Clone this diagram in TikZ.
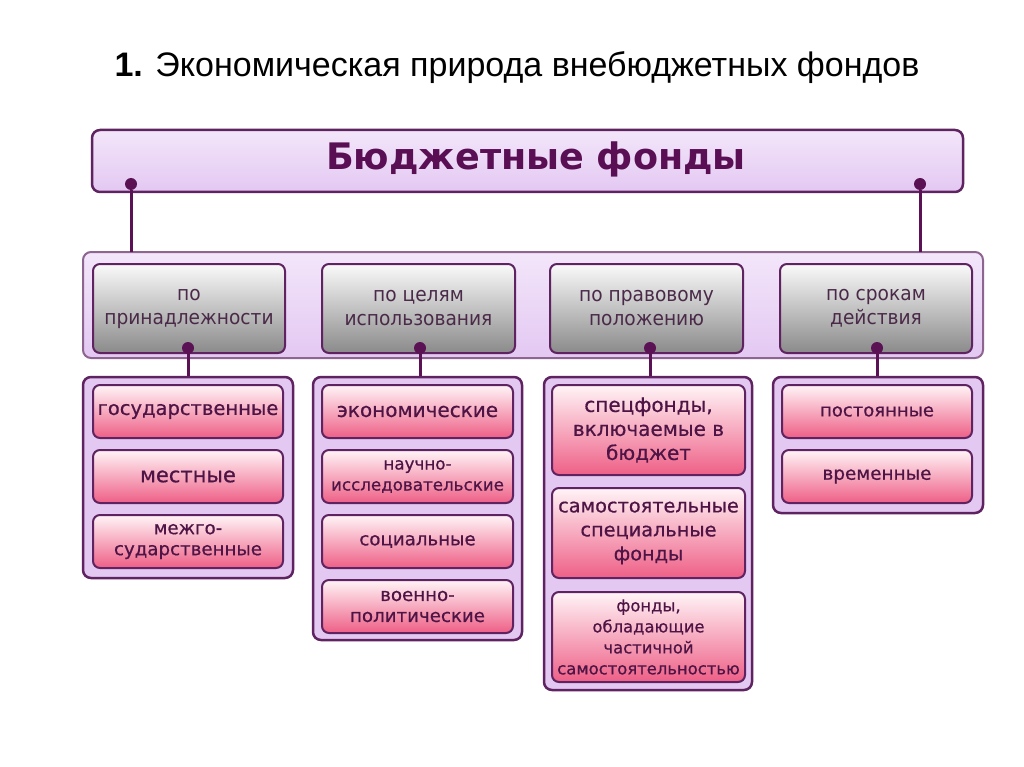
\documentclass[tikz,border=0pt]{standalone}
\usepackage{fontspec}
\setmainfont{Liberation Sans}
\newfontfamily\headfont{DejaVu Sans}
\newfontfamily\narrowfont[FakeStretch=0.93]{DejaVu Sans}
\newfontfamily\itemfont[FakeBold=0.6]{DejaVu Sans}
\definecolor{pborder}{HTML}{5E2360}
\definecolor{lav}{HTML}{E3C8F2}
\definecolor{lavlight}{HTML}{F3E6FA}
\definecolor{pinktop}{HTML}{FFF4F7}
\definecolor{pinkbot}{HTML}{EE5F86}
\definecolor{graytop}{HTML}{FAFAFA}
\definecolor{graybot}{HTML}{8A8A8A}
\definecolor{ptext}{HTML}{4E1445}
\definecolor{htext}{HTML}{5A0F55}
\definecolor{gtext}{HTML}{4A2A48}
\definecolor{dotc}{HTML}{5A1254}
\tikzset{
  banner/.style={draw=pborder, line width=2.5pt, rounded corners=8pt, top color=lavlight, bottom color=lav, minimum width=871pt, minimum height=62pt, inner sep=0pt},
  band/.style={draw=pborder!70, line width=2pt, rounded corners=8pt, top color=lavlight, bottom color=lav, minimum width=900pt, minimum height=106pt, inner sep=0pt},
  grp/.style={draw=pborder, line width=2.5pt, rounded corners=8pt, fill=lav, inner sep=0pt},
  graybox/.style={draw=pborder, line width=2pt, rounded corners=7pt, top color=graytop, bottom color=graybot, minimum width=192pt, minimum height=89pt, align=center, text=gtext, font=\narrowfont\fontsize{20}{24}\selectfont, inner sep=0pt},
  pinkbox/.style={draw=pborder, line width=2pt, rounded corners=7pt, top color=pinktop, bottom color=pinkbot, minimum width=190pt, minimum height=53pt, align=center, text=ptext, inner sep=0pt},
  dot/.style={circle, fill=dotc, minimum size=12pt, inner sep=0pt},
  conn/.style={draw=dotc, line width=3pt},
}
\begin{document}
\begin{tikzpicture}[x=1pt,y=-1pt]
\useasboundingbox[fill=white] (0,0) rectangle (1024,767);
% title
\node[anchor=west, font=\fontsize{34}{38}\selectfont, text=black] (title) at (111,68) {\textbf{1.} Экономическая природа внебюджетных фондов};
% banner
\node[banner] (top) at (527.5,161) {};
\node[font=\headfont\bfseries\fontsize{36.5}{40}\selectfont, text=htext] (toptext) at (536,159) {Бюджетные фонды};
% middle band
\node[band] (mid) at (533,305) {};
% connectors from banner to band
\node[dot] (dl) at (131,184) {};
\node[dot] (dr) at (920,184) {};
\coordinate (bl) at (131,252);
\coordinate (br) at (920,252);
\draw[conn] (dl) -- (bl);
\draw[conn] (dr) -- (br);
% groups
\node[grp, minimum width=210pt, minimum height=201pt] (g1) at (188,477.5) {};
\node[grp, minimum width=209pt, minimum height=263pt] (g2) at (417.5,508.5) {};
\node[grp, minimum width=208pt, minimum height=313pt] (g3) at (648,533.5) {};
\node[grp, minimum width=210pt, minimum height=136pt] (g4) at (878,445) {};
% gray boxes
\node[graybox] (c1) at (189,308.5) {по\\принадлежности};
\node[graybox, minimum width=193pt] (c2) at (418.5,308.5) {по целям\\использования};
\node[graybox, minimum width=193pt] (c3) at (646.5,308.5) {по правовому\\положению};
\node[graybox] (c4) at (876,308.5) {по срокам\\действия};
% dots on gray boxes and connectors
\node[dot] (d1) at (188,348) {};
\node[dot] (d2) at (420,348) {};
\node[dot] (d3) at (650,348) {};
\node[dot] (d4) at (877,348) {};
\draw[conn] (d1) -- (d1 |- g1.north);
\draw[conn] (d2) -- (d2 |- g2.north);
\draw[conn] (d3) -- (d3 |- g3.north);
\draw[conn] (d4) -- (d4 |- g4.north);
% group 1
\node[pinkbox, font=\itemfont\fontsize{19.5}{23}\selectfont] (i11) at (188,411.5) {государственные};
\node[pinkbox, font=\itemfont\fontsize{21}{23}\selectfont] (i12) at (188,476.5) {местные};
\node[pinkbox, font=\itemfont\fontsize{18.2}{21}\selectfont] (i13) at (188,541.5) {межго-\\сударственные};
% group 2
\node[pinkbox, minimum width=191pt, font=\itemfont\fontsize{20}{21}\selectfont] (i21) at (417.5,411.5) {экономические};
\node[pinkbox, minimum width=191pt, font=\itemfont\fontsize{16.7}{21}\selectfont] (i22) at (417.5,476.5) {научно-\\исследовательские};
\node[pinkbox, minimum width=191pt, font=\itemfont\fontsize{18.2}{21}\selectfont] (i23) at (417.5,541.5) {социальные};
\node[pinkbox, minimum width=191pt, font=\itemfont\fontsize{18.2}{21}\selectfont] (i24) at (417.5,606.5) {военно-\\политические};
% group 3
\node[pinkbox, minimum width=193pt, minimum height=90pt, font=\itemfont\fontsize{20}{24}\selectfont] (i31) at (648.5,430) {спецфонды,\\включаемые в\\бюджет};
\node[pinkbox, minimum width=193pt, minimum height=90pt, font=\itemfont\fontsize{19.3}{24}\selectfont] (i32) at (648.5,533) {самостоятельные\\специальные\\фонды};
\node[pinkbox, minimum width=193pt, minimum height=90pt, font=\itemfont\fontsize{16.4}{21}\selectfont] (i33) at (648.5,637) {фонды,\\обладающие\\частичной\\самостоятельностью};
% group 4
\node[pinkbox, font=\itemfont\fontsize{18}{21}\selectfont] (i41) at (877,411.5) {постоянные};
\node[pinkbox, font=\itemfont\fontsize{18.4}{21}\selectfont] (i42) at (877,476.5) {временные};
\end{tikzpicture}
\end{document}
